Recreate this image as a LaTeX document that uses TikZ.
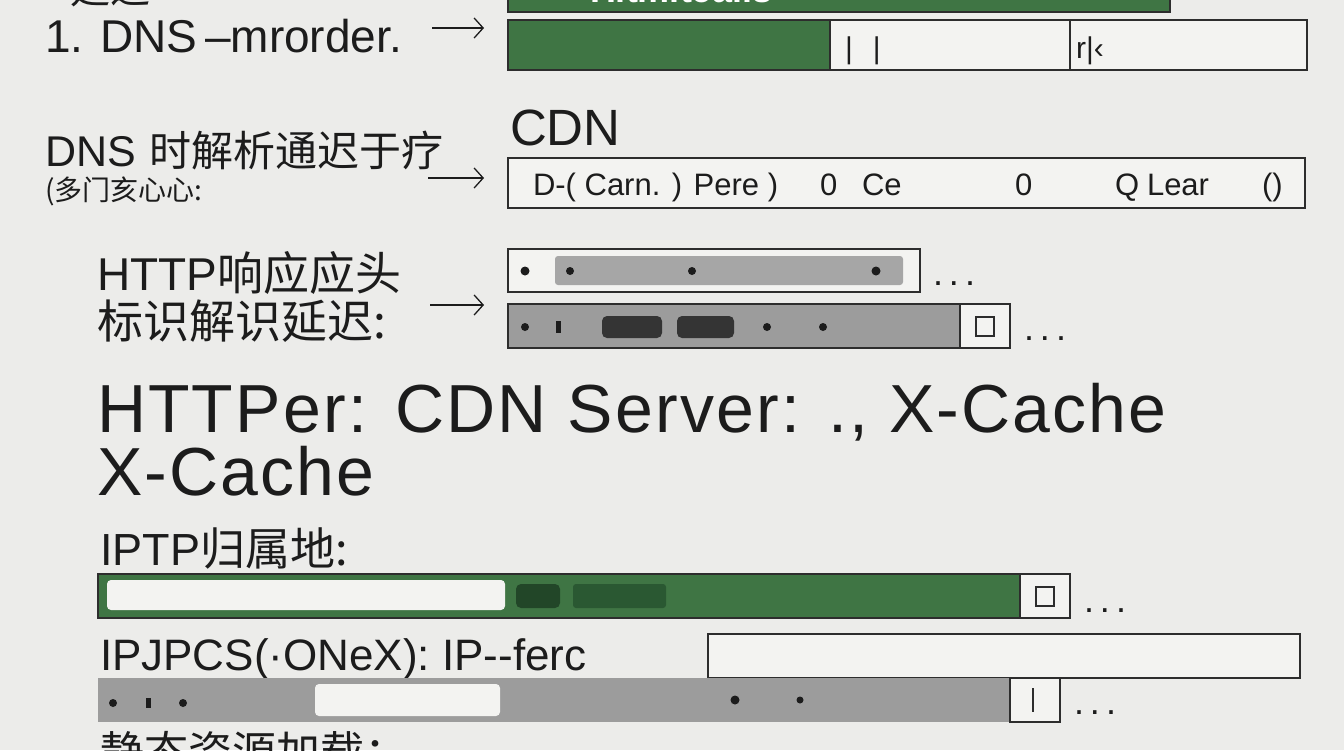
\documentclass[tikz,border=0pt]{standalone}
\usepackage{fontspec}
\setmainfont{Liberation Sans}
\newfontfamily\cjk{Noto Sans CJK SC}
\usetikzlibrary{arrows.meta}
\definecolor{bg}{RGB}{236,236,234}
\definecolor{paper}{RGB}{243,243,241}
\definecolor{ink}{RGB}{28,28,28}
\definecolor{edge}{RGB}{45,45,45}
\definecolor{gbar}{RGB}{63,117,68}
\definecolor{gdark}{RGB}{34,70,40}
\definecolor{gdark2}{RGB}{42,88,50}
\definecolor{greybar}{RGB}{156,156,156}
\definecolor{greyin}{RGB}{166,166,166}
\definecolor{darkblk}{RGB}{52,52,52}
\tikzset{
  lbl/.style={anchor=base west, inner sep=0pt, outer sep=0pt, text=ink},
  arr/.style={draw=ink, line width=1.3pt, -{Straight Barb[length=9pt,width=20pt]}},
  frame/.style={draw=edge, line width=1.2pt},
}
\newcommand{\fs}[1]{\fontsize{#1}{#1}\selectfont}
\newcommand{\dotsx}{.\hspace{6pt}.\hspace{6pt}.}
\begin{document}
\begin{tikzpicture}[x=1pt,y=-1pt]
\useasboundingbox (0,0) rectangle (1344,750);
\clip (0,0) rectangle (1344,750);
\fill[bg] (0,0) rectangle (1344,750);

% ---- top cut-off row
\node[lbl] (toptxt) at (70,3) {\fs{40}\cjk 延迟};
\fill[gbar] (508,-10) rectangle (1170,12);
\draw[frame] (508,-10) rectangle (1170,12);
\node[lbl, text=white] (toplbl) at (590,2) {\fs{36}\bfseries Hitmitcalls};

% ---- row 1
\node[lbl] (l1) at (45,52) {\fs{46}1. DNS\,–mrorder.};
\coordinate (a1s) at (432,28);
\fill[gbar] (508,20) rectangle (830,70);
\fill[paper] (830,20) rectangle (1307,70);
\draw[frame] (508,20) rectangle (1307,70);
\draw[frame] (830,20) -- (830,70) (1070,20) -- (1070,70);
\coordinate (bar1w) at (508,45);
\node[lbl] (c1) at (845,58) {\fs{30}|\hspace{20pt}|};
\node[lbl] (c2) at (1076,58) {\fs{30}r|‹};
\draw[arr, shorten >=24pt] (a1s) -- (a1s -| bar1w);

% ---- CDN row
\node[lbl] (cdn) at (510,145) {\fs{51}CDN};
\node[lbl] (l2) at (45,166) {\fs{43}DNS\hspace{14pt}{\cjk\fs{42}时解析通迟于疗}};
\node[lbl] (l2b) at (45,200) {\fs{28}\cjk (多门亥心心:};
\coordinate (a2s) at (428,178);
\fill[paper] (508,158) rectangle (1305,208);
\draw[frame] (508,158) rectangle (1305,208);
\coordinate (cdnw) at (508,183);
\node[lbl] (t1) at (533,195) {\fs{31}D-( Carn. ) Pere )};
\node[lbl] (t2) at (820,195) {\fs{31}0};
\node[lbl] (t3) at (862,195) {\fs{31}Ce};
\node[lbl] (t4) at (1015,195) {\fs{31}0};
\node[lbl] (t5) at (1115,195) {\fs{31}Q};
\node[lbl] (t6) at (1147,195) {\fs{31}Lear};
\node[lbl] (t7) at (1262,195) {\fs{31}()};
\draw[arr, shorten >=24pt] (a2s) -- (a2s -| cdnw);

% ---- HTTP rows
\node[lbl] (l3) at (97,290) {\fs{46}HTTP{\cjk 响应应头}};
\node[lbl] (l3b) at (97,338) {\fs{46}\cjk 标识解识延迟:};
\coordinate (a3s) at (430,305);
% bar A
\fill[paper] (508,249) rectangle (920,292);
\draw[frame] (508,249) rectangle (920,292);
\fill[greyin, rounded corners=3pt] (555,256) rectangle (903,285);
\fill[ink] (525,271) circle (4.5pt) (570,271) circle (4pt) (692,271) circle (4pt) (876,271) circle (4.5pt);
\node[lbl] (dA) at (933,285) {\fs{36}\dotsx};
% bar B
\fill[greybar] (508,304) rectangle (1010,348);
\fill[paper] (960,304) rectangle (1010,348);
\draw[frame] (508,304) rectangle (1010,348);
\draw[frame] (960,304) -- (960,348);
\draw[edge, line width=1.3pt] (976,317) rectangle (994,336);
\fill[ink] (525,327) circle (4pt) (767,327) circle (4pt) (823,327) circle (4pt);
\fill[ink] (556,321) rectangle (561,333);
\fill[darkblk, rounded corners=5pt] (602,316) rectangle (662,338);
\fill[darkblk, rounded corners=5pt] (677,316) rectangle (734,338);
\node[lbl] (dB) at (1024,340) {\fs{36}\dotsx};
\coordinate (barw) at (508,305);
\draw[arr, shorten >=24pt] (a3s) -- (barw);

% ---- big heading
\node[lbl] (big1) at (97,432) {\fs{68}\addfontfeatures{LetterSpace=3.2}HTTPer: CDN Server: ., X-Cache};
\node[lbl] (big2) at (97,495) {\fs{68}\addfontfeatures{LetterSpace=3.2}X-Cache};

% ---- IP row
\node[lbl] (l4) at (100,565) {\fs{45}IPTP{\cjk 归属地:}};
\fill[gbar] (98,574) rectangle (1070,618);
\fill[paper] (1020,574) rectangle (1070,618);
\draw[frame] (98,574) rectangle (1070,618);
\draw[frame] (1020,574) -- (1020,618);
\draw[edge, line width=1.3pt] (1036,587) rectangle (1054,606);
\fill[paper, rounded corners=4pt] (107,580) rectangle (505,610);
\fill[gdark, rounded corners=5pt] (516,584) rectangle (560,608);
\fill[gdark2, rounded corners=3pt] (573,584) rectangle (666,608);
\node[lbl] (dC) at (1084,612) {\fs{36}\dotsx};

% ---- IPJPCS row
\node[lbl] (l5) at (100,670) {\fs{44}IPJPCS(·ONeX): IP-{}-ferc};
\fill[paper] (708,634) rectangle (1300,678);
\draw[frame] (708,634) rectangle (1300,678);
\fill[greybar] (98,678) rectangle (1010,722);
\fill[paper] (1010,678) rectangle (1060,722);
\draw[frame] (1010,678) rectangle (1060,722);
\draw[edge, line width=1.6pt] (1033,688) -- (1033,712);
\fill[paper, rounded corners=4pt] (315,684) rectangle (500,716);
\fill[ink] (113,703) circle (4pt) (183,703) circle (4pt) (735,700) circle (4.5pt) (800,700) circle (3.5pt);
\fill[ink] (146,698) rectangle (151,708);
\node[lbl] (dD) at (1074,714) {\fs{36}\dotsx};

% ---- bottom cut-off
\node[lbl] (bot) at (100,768) {\fs{44}\cjk 静态资源加载：};
\end{tikzpicture}
\end{document}
